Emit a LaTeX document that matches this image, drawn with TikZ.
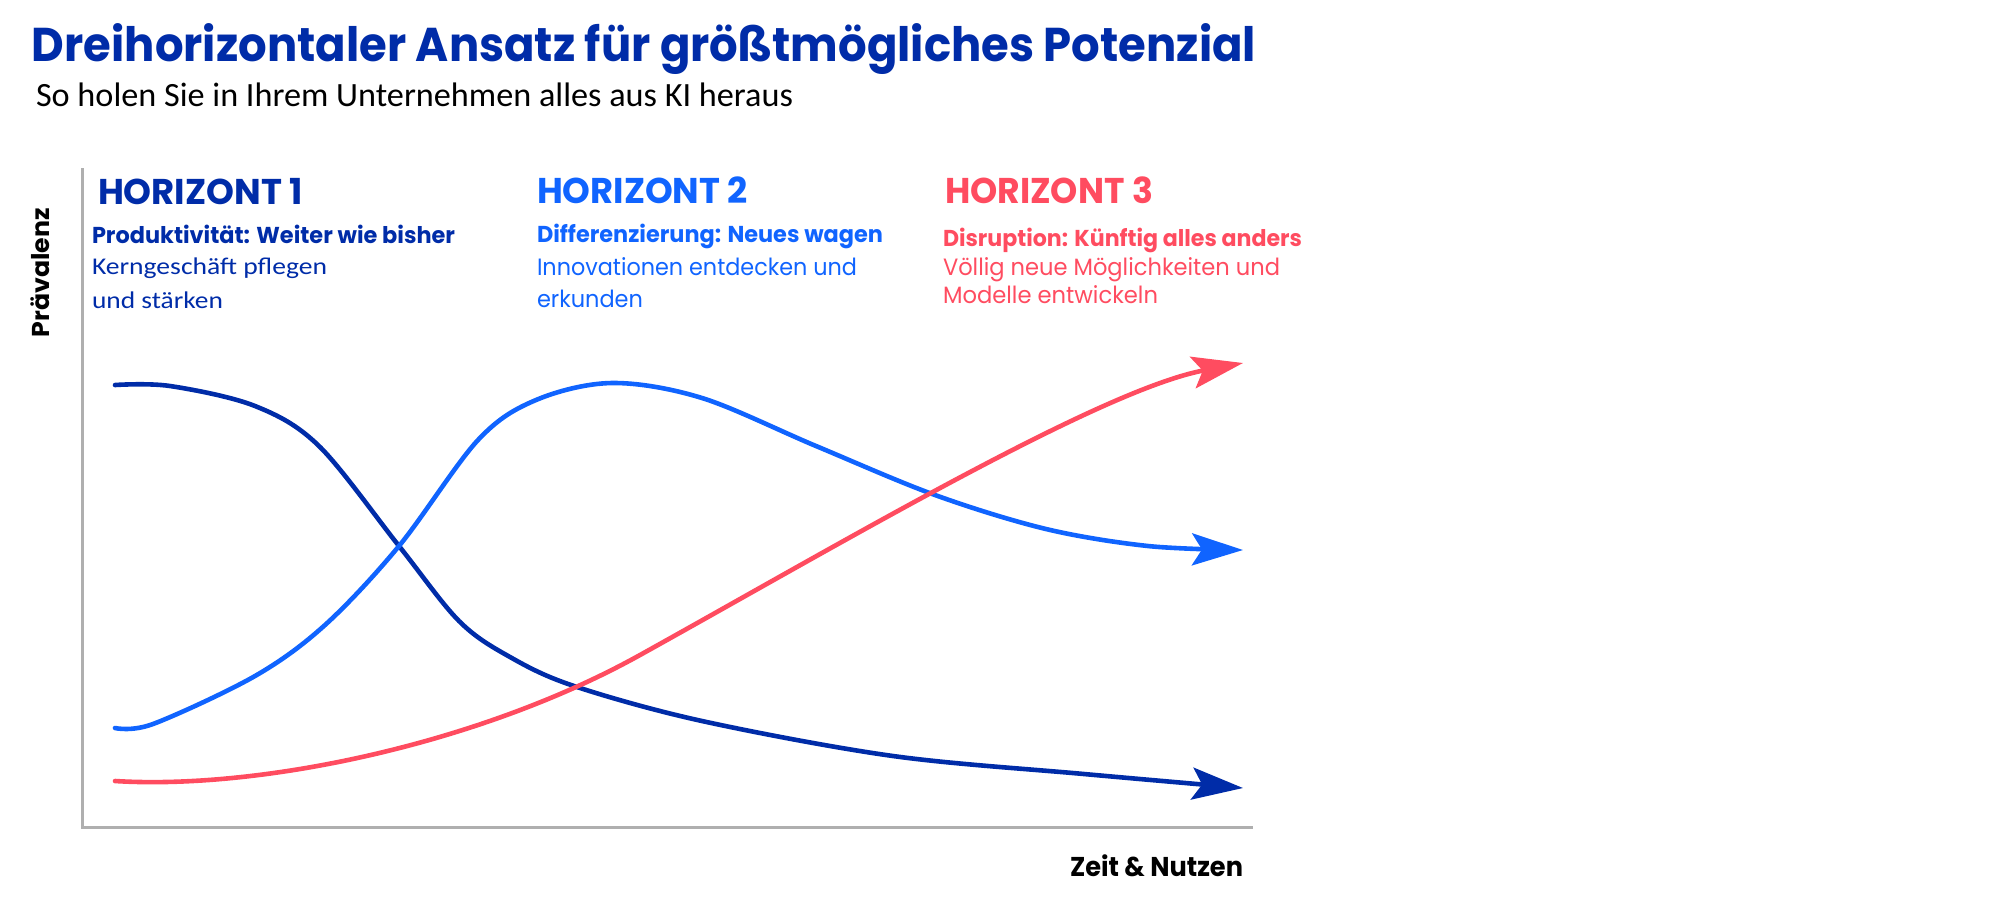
\documentclass[tikz,border=0pt]{standalone}
\usepackage{fontspec}
\usepackage{graphicx}
\setmainfont{Poppins}
\newfontfamily\calfont{Carlito}
\usetikzlibrary{arrows.meta}
\newlength\px
\setlength\px{0.5pt}
\newcommand\fitw[2]{\resizebox{#1\px}{\height}{#2}}
\definecolor{hdark}{RGB}{0,44,168}
\definecolor{hblue}{RGB}{16,100,255}
\definecolor{hred}{RGB}{255,76,96}
\definecolor{axgray}{RGB}{175,175,175}
\tikzset{
  txt/.style={anchor=base west, inner sep=0pt, outer sep=0pt},
  curve/.style={line width=2.3pt, line cap=round,
    -{Stealth[length=25.5pt, width=16pt, inset=5pt]}},
  axisline/.style={draw=axgray, line width=1.5pt},
}
\begin{document}
\begin{tikzpicture}[x=0.5pt, y=-0.5pt]
\useasboundingbox (0,0) rectangle (2000,901);
% title and subtitle
\node[txt, text=hdark] (title) at (32,61)
  {\fitw{1224}{\fontsize{23.7}{28}\selectfont\bfseries Dreihorizontaler Ansatz für größtmögliches Potenzial}};
\node[txt] (subtitle) at (36,106)
  {\fitw{757}{\calfont\fontsize{17}{20}\selectfont So holen Sie in Ihrem Unternehmen alles aus KI heraus}};
% axes
\coordinate (ytop) at (82,168);
\coordinate (origin) at (82,827);
\coordinate (xend) at (1253,827);
\draw[axisline] (ytop) -- (origin) -- (xend);
\node[txt, rotate=90] (ylab) at (49,337)
  {\fitw{129}{\fontsize{12.2}{14}\selectfont\bfseries Prävalenz}};
\node[txt] (xlab) at (1070,876)
  {\fitw{173}{\fontsize{13.6}{16}\selectfont\bfseries Zeit \& Nutzen}};
% Horizon 1
\node[txt, text=hdark] (h1) at (98,204)
  {\fitw{205}{\fontsize{17.9}{20}\selectfont\bfseries HORIZONT 1}};
\node[txt, text=hdark] (h1a) at (92,243)
  {\fitw{363}{\fontsize{11.5}{14}\selectfont\bfseries Produktivität: Weiter wie bisher}};
\node[txt, text=hdark] (h1b) at (92,274)
  {\fitw{235}{\calfont\fontsize{12}{14}\selectfont Kerngeschäft pflegen}};
\node[txt, text=hdark] (h1c) at (92,308)
  {\fitw{131}{\calfont\fontsize{12}{14}\selectfont und stärken}};
% Horizon 2
\node[txt, text=hblue] (h2) at (537,203)
  {\fitw{211}{\fontsize{17.9}{20}\selectfont\bfseries HORIZONT 2}};
\node[txt, text=hblue] (h2a) at (537,242)
  {\fitw{346}{\fontsize{11.5}{14}\selectfont\bfseries Differenzierung: Neues wagen}};
\node[txt, text=hblue] (h2b) at (537,275)
  {\fitw{320}{\fontsize{11.8}{14}\selectfont Innovationen entdecken und}};
\node[txt, text=hblue] (h2c) at (537,307)
  {\fitw{106}{\fontsize{11.8}{14}\selectfont erkunden}};
% Horizon 3
\node[txt, text=hred] (h3) at (945,203)
  {\fitw{208}{\fontsize{17.9}{20}\selectfont\bfseries HORIZONT 3}};
\node[txt, text=hred] (h3a) at (943,246)
  {\fitw{359}{\fontsize{11.5}{14}\selectfont\bfseries Disruption: Künftig alles anders}};
\node[txt, text=hred] (h3b) at (943,275)
  {\fitw{337}{\fontsize{11.8}{14}\selectfont Völlig neue Möglichkeiten und}};
\node[txt, text=hred] (h3c) at (943,303)
  {\fitw{215}{\fontsize{11.8}{14}\selectfont Modelle entwickeln}};
% curve end points
\coordinate (d0) at (115,385);
\coordinate (d1) at (1243,788);
\coordinate (b0) at (115,728);
\coordinate (b1) at (1243,550);
\coordinate (r0) at (115,781);
\coordinate (rm) at (640,655);
\coordinate (r1) at (1243,363);
% curves
\draw[curve, draw=hdark] plot[smooth, tension=0.55] coordinates
  {(d0) (170,386) (255,406) (319,446) (399,546) (459,621) (510,657) (574,686) (702,721) (893,756) (1084,774) (d1)};
\draw[curve, draw=hblue] plot[smooth, tension=0.55] coordinates
  {(b0) (153,724) (255,676) (325,625) (399,546) (478,440) (536,400) (612,383) (702,398) (816,446) (935,495) (1046,529) (1148,546) (b1)};
\draw[curve, draw=hred] (r0) .. controls (260,790) and (480,744) .. (rm)
  .. controls (840,544) and (1100,390) .. (r1);
\end{tikzpicture}
\end{document}
